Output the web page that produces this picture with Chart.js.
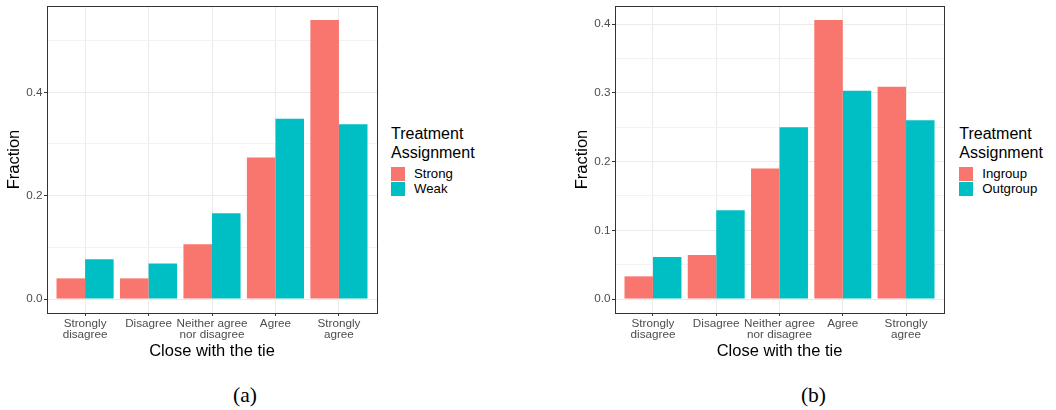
<!DOCTYPE html>
<html>
<head>
<meta charset="utf-8">
<script src="https://cdn.jsdelivr.net/npm/chart.js@4/dist/chart.umd.min.js"></script>
<style>
  html, body { margin: 0; padding: 0; background: #ffffff; }
  body { width: 1056px; height: 410px; position: relative; overflow: hidden;
         font-family: "Liberation Sans", Arial, sans-serif; }
  canvas { position: absolute; top: 0; }
  .legend { position: absolute; top: 123.5px; color: #000000; }
  .legend .ltitle { font-size: 16px; line-height: 19px; white-space: nowrap; }
  .legend .items { margin-top: 4.4px; }
  .legend .item { height: 15.6px; display: flex; align-items: center; }
  .legend .sw { width: 14px; height: 14px; margin-right: 9px; }
  .legend .lab { font-size: 13.2px; line-height: 14px; white-space: nowrap; }
  .caption { position: absolute; top: 383px; transform: translateX(-50%);
             font-family: "Liberation Serif", "DejaVu Serif", serif; font-size: 21.5px;
             line-height: 24px; color: #000000; }
</style>
</head>
<body>
<canvas id="panelA" width="380" height="370" style="left:0px"></canvas>
<canvas id="panelB" width="379" height="370" style="left:568px"></canvas>
<div class="caption" style="left:245px">(a)</div>
<div class="caption" style="left:813.5px">(b)</div>
<script>
// Response categories on the x axis (multi-line labels as arrays)
const categories = [['Strongly', 'disagree'], 'Disagree', ['Neither agree', 'nor disagree'], 'Agree', ['Strongly', 'agree']];

// Panel (a): tie strength treatment
const strongFraction = [0.040, 0.040, 0.106, 0.274, 0.540];
const weakFraction   = [0.077, 0.069, 0.166, 0.349, 0.338];

// Panel (b): group treatment
const ingroupFraction  = [0.033, 0.064, 0.190, 0.406, 0.309];
const outgroupFraction = [0.061, 0.129, 0.250, 0.303, 0.260];

// Labelled y ticks per panel
const yMajorTicksA = [0, 0.2, 0.4];
const yMajorTicksB = [0, 0.1, 0.2, 0.3, 0.4];

const seriesNamesA = ['Strong', 'Weak'];
const seriesNamesB = ['Ingroup', 'Outgroup'];
const legendTitle = ['Treatment', 'Assignment'];
const xTitle = 'Close with the tie';
const yTitle = 'Fraction';

const COLORS = ['#F8766D', '#00BFC4'];
const FONT = '"Liberation Sans", Arial, sans-serif';
const INK = '#333333';

// Draws the full frame around the plotting area
const panelBorder = {
  id: 'panelBorder',
  afterDraw(chart) {
    const { ctx, chartArea: a } = chart;
    const l = Math.round(a.left - 0.5) + 0.5, r = Math.round(a.right - 0.5) + 0.5;
    const t = Math.round(a.top - 0.5) + 0.5, b = Math.round(a.bottom - 0.5) + 0.5;
    ctx.save();
    ctx.strokeStyle = INK;
    ctx.lineWidth = 1;
    ctx.strokeRect(l, t, r - l, b - t);
    ctx.restore();
  }
};

function makePanel(canvasId, names, seriesValues, majorTicks) {
  const canvas = document.getElementById(canvasId);
  const maxV = Math.max(...seriesValues.flat());
  const yMin = -0.05 * maxV, yMax = 1.05 * maxV;
  const step = majorTicks[1] - majorTicks[0];
  const minor = [];
  for (let v = majorTicks[0] - step / 2; v <= yMax + 1e-9; v += step) {
    if (v >= yMin) minor.push(+v.toFixed(4));
  }
  const allTicks = [...majorTicks, ...minor].sort((p, q) => p - q);
  const isMajor = v => majorTicks.some(m => Math.abs(m - v) < 1e-6);

  new Chart(canvas, {
    type: 'bar',
    data: {
      datasets: seriesValues.map((vals, k) => ({
        label: names[k],
        data: vals.map((v, i) => ({ x: i, y: v })),
        backgroundColor: COLORS[k],
        borderWidth: 0,
        categoryPercentage: 0.9,
        barPercentage: 1.0
      }))
    },
    options: {
      responsive: false,
      animation: false,
      devicePixelRatio: 1,
      layout: { padding: { top: 6, right: 3, left: 0, bottom: 0 } },
      plugins: { legend: { display: false }, tooltip: { enabled: false } },
      scales: {
        x: {
          type: 'linear',
          min: -0.6,
          max: categories.length - 0.4,
          bounds: 'data',
          offset: false,
          afterBuildTicks: s => { s.ticks = categories.map((_, i) => ({ value: i })); },
          afterFit: s => { s.height = 57; s.paddingLeft = 0; s.paddingRight = 0; },
          grid: { offset: false, color: '#EBEBEB', lineWidth: 1, drawTicks: true,
                  tickLength: 3, tickColor: INK, tickWidth: 1 },
          border: { display: true, color: INK, width: 1 },
          ticks: {
            autoSkip: false, maxRotation: 0, minRotation: 0, padding: 2,
            color: '#4D4D4D', font: { family: FONT, size: 11.7, lineHeight: 0.94 },
            callback: v => categories[v] ?? ''
          },
          title: { display: true, text: xTitle, color: '#000000',
                   font: { family: FONT, size: 16.5, lineHeight: 1.2 },
                   padding: { top: 0, bottom: 9 } }
        },
        y: {
          type: 'linear',
          min: yMin,
          max: yMax,
          bounds: 'data',
          afterBuildTicks: s => { s.ticks = allTicks.map(v => ({ value: v })); },
          afterFit: s => { s.width = 47; s.paddingTop = 0; s.paddingBottom = 0; },
          grid: {
            color: c => (c.tick && !isMajor(c.tick.value)) ? '#F2F2F2' : '#EBEBEB',
            lineWidth: 1, drawTicks: true, tickLength: 3, tickWidth: 1,
            tickColor: c => (c.tick && !isMajor(c.tick.value)) ? 'rgba(0,0,0,0)' : INK
          },
          border: { display: true, color: INK, width: 1 },
          ticks: {
            padding: 1.5, color: '#4D4D4D', font: { family: FONT, size: 11.7 },
            callback: v => isMajor(v) ? v.toFixed(1) : ''
          },
          title: { display: true, text: yTitle, color: '#000000',
                   font: { family: FONT, size: 16.5, lineHeight: 1.2 },
                   padding: { top: 5, bottom: 0 } }
        }
      }
    },
    plugins: [panelBorder]
  });
}

function buildLegend(left, names) {
  const box = document.createElement('div');
  box.className = 'legend';
  box.style.left = left + 'px';
  legendTitle.forEach(t => {
    const d = document.createElement('div');
    d.className = 'ltitle';
    d.textContent = t;
    box.appendChild(d);
  });
  const items = document.createElement('div');
  items.className = 'items';
  names.forEach((n, k) => {
    const it = document.createElement('div');
    it.className = 'item';
    const sw = document.createElement('div');
    sw.className = 'sw';
    sw.style.background = COLORS[k];
    const lab = document.createElement('span');
    lab.className = 'lab';
    lab.textContent = n;
    it.appendChild(sw);
    it.appendChild(lab);
    items.appendChild(it);
  });
  box.appendChild(items);
  document.body.appendChild(box);
}

makePanel('panelA', seriesNamesA, [strongFraction, weakFraction], yMajorTicksA);
makePanel('panelB', seriesNamesB, [ingroupFraction, outgroupFraction], yMajorTicksB);
buildLegend(391, seriesNamesA);
buildLegend(959.3, seriesNamesB);
</script>
</body>
</html>
